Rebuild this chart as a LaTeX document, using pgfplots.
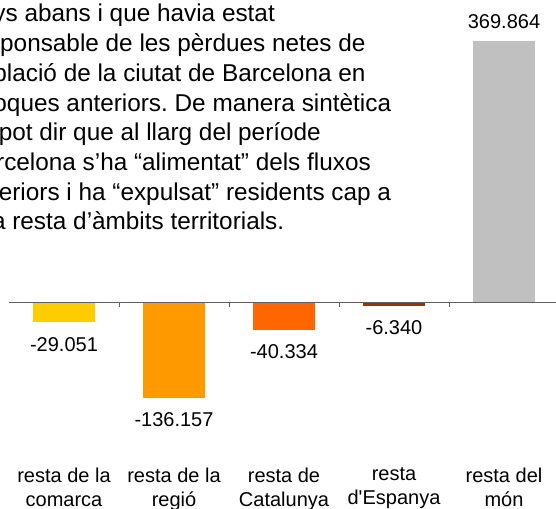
\documentclass[border=0pt]{standalone}
\usepackage{pgfplots}
\pgfplotsset{compat=1.18}
\usepackage{fontspec}
\setmainfont{Liberation Sans}[Ligatures=TeXOff]
\frenchspacing
\definecolor{cYel}{HTML}{FFCC00}
\definecolor{cOra}{HTML}{FF9900}
\definecolor{cDor}{HTML}{FF6600}
\definecolor{cBro}{HTML}{993300}
\definecolor{cGry}{HTML}{C0C0C0}
\definecolor{cAx}{HTML}{606060}
\begin{document}
\begin{tikzpicture}
\useasboundingbox (0,0) rectangle (417pt,381.75pt);
\begin{axis}[
  at={(6.75pt,36.75pt)}, anchor=south west,
  scale only axis, width=412.5pt, height=345pt,
  xmin=-0.5, xmax=4.5, ymin=-224100, ymax=428400,
  axis line style={draw=none},
  ytick=\empty,
  xtick={0,1,2,3,4},
  xticklabels={{resta de la\\comarca},{resta de la\\regió},{resta de\\Catalunya},{resta\\d'Espanya},{resta del\\món}},
  xtick style={draw=none},
  xticklabel style={align=center, font=\fontsize{15}{18}\selectfont, anchor=north, inner sep=0pt, yshift=-1.25pt},
  ybar, bar width=46.5pt,
  nodes near coords, point meta=explicit symbolic,
  every node near coord/.append style={font=\fontsize{15}{18}\selectfont, inner sep=10pt, text=black},
  clip=false,
]
\addplot[ybar, bar shift=0pt, fill=cYel, draw=none, nodes near coords style={anchor=north, yshift=-1pt}] coordinates {(0,-29051) [-29.051]};
\addplot[ybar, bar shift=0pt, fill=cOra, draw=none, nodes near coords style={anchor=north, yshift=-1pt}] coordinates {(1,-136157) [-136.157]};
\addplot[ybar, bar shift=0pt, fill=cDor, draw=none, nodes near coords style={anchor=north}] coordinates {(2,-40334) [-40.334]};
\addplot[ybar, bar shift=0pt, fill=cBro, draw=none, nodes near coords style={anchor=north}] coordinates {(3,-6340) [-6.340]};
\addplot[ybar, bar shift=0pt, fill=cGry, draw=none, nodes near coords style={anchor=south, yshift=-1pt}] coordinates {(4,369864) [369.864]};
\draw[line width=0.75pt, color=cAx] (axis cs:-0.5,0) -- (axis cs:4.5,0);
\draw[line width=0.75pt, color=cAx] (axis cs:0.5,0) -- ++(0pt,-3.75pt);
\draw[line width=0.75pt, color=cAx] (axis cs:1.5,0) -- ++(0pt,-3.75pt);
\draw[line width=0.75pt, color=cAx] (axis cs:2.5,0) -- ++(0pt,-3.75pt);
\draw[line width=0.75pt, color=cAx] (axis cs:3.5,0) -- ++(0pt,-3.75pt);
\end{axis}
\node[anchor=base west, align=left, font=\fontsize{18.25}{22.3}\selectfont, inner sep=0pt] at (-25.4pt,209.25pt)
 {anys abans i que havia estat\\
  responsable de les pèrdues netes de\\
  població de la ciutat de Barcelona en\\
  èpoques anteriors. De manera sintètica\\
  es pot dir que al llarg del període\\
  Barcelona s’ha “alimentat” dels fluxos\\
  exteriors i ha “expulsat” residents cap a\\
  a la resta d’àmbits territorials.};
\end{tikzpicture}
\end{document}
